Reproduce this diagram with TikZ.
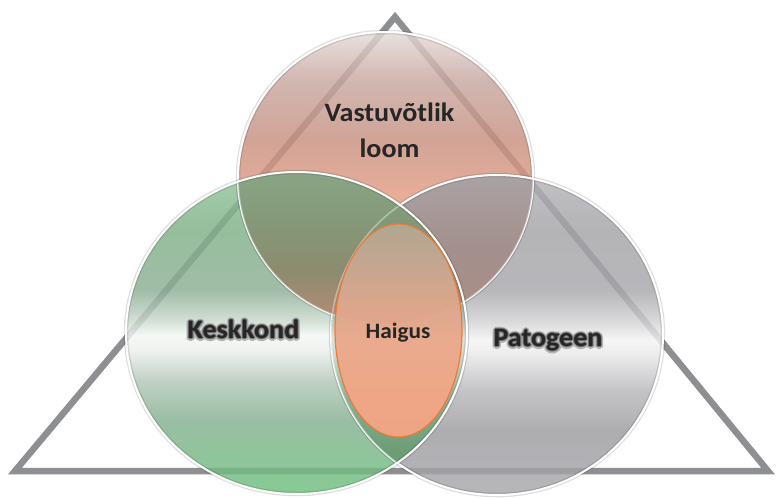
\documentclass[tikz,border=0pt]{standalone}
\usepackage{fontspec}
\setmainfont{Carlito}
\definecolor{trigray}{HTML}{8E8F93}
\definecolor{txt}{HTML}{262626}
\definecolor{hborder}{HTML}{EE7A3A}
\definecolor{glowout}{HTML}{B4B4B4}
\definecolor{glowin}{HTML}{727272}
% top circle
\definecolor{tA}{HTML}{E4DAD8}\definecolor{tB}{HTML}{C8A8A0}\definecolor{tC}{HTML}{C89080}
\definecolor{tD}{HTML}{EEA084}\definecolor{tE}{HTML}{F6A888}
\pgfdeclareverticalshading{topsh}{100bp}{color(0bp)=(tE); color(25bp)=(tE); color(42.9bp)=(tD); color(56.6bp)=(tC); color(66.8bp)=(tB); color(75bp)=(tA); color(100bp)=(tA)}
% green circle
\definecolor{gA}{HTML}{90C49A}\definecolor{gB}{HTML}{7FB088}\definecolor{gC}{HTML}{8CAE94}
\definecolor{gD}{HTML}{C8D8CC}\definecolor{gE}{HTML}{F4F6F4}\definecolor{gF}{HTML}{EEF0EE}
\definecolor{gG}{HTML}{B4C8B8}\definecolor{gH}{HTML}{84B090}\definecolor{gI}{HTML}{6CC07C}
\pgfdeclareverticalshading{greensh}{100bp}{color(0bp)=(gI); color(25bp)=(gI); color(36.5bp)=(gH); color(42.7bp)=(gG); color(47.4bp)=(gF); color(49.7bp)=(gE); color(52bp)=(gD); color(56.7bp)=(gC); color(66bp)=(gB); color(75bp)=(gA); color(100bp)=(gA)}
% gray circle
\definecolor{pA}{HTML}{B4B4B8}\definecolor{pB}{HTML}{A4A4A8}\definecolor{pC}{HTML}{A8A8AC}
\definecolor{pD}{HTML}{D0D0D2}\definecolor{pE}{HTML}{F4F4F4}\definecolor{pF}{HTML}{E8E8E8}
\definecolor{pG}{HTML}{B8B8BB}\definecolor{pH}{HTML}{9C9CA0}\definecolor{pI}{HTML}{A8A8AC}
\pgfdeclareverticalshading{graysh}{100bp}{color(0bp)=(pI); color(25bp)=(pI); color(35bp)=(pH); color(41.4bp)=(pG); color(46.9bp)=(pF); color(49.2bp)=(pE); color(52.3bp)=(pD); color(57bp)=(pC); color(66.4bp)=(pB); color(75bp)=(pA); color(100bp)=(pA)}
% top & green overlap
\definecolor{oA}{HTML}{88A484}\definecolor{oB}{HTML}{849878}\definecolor{oC}{HTML}{8C8A6C}
\definecolor{oD}{HTML}{AC8872}\definecolor{oE}{HTML}{BC8A74}
\pgfdeclareverticalshading{tgsh}{100bp}{color(0bp)=(oE); color(25bp)=(oE); color(31.3bp)=(oD); color(44bp)=(oC); color(59.8bp)=(oB); color(75bp)=(oA); color(100bp)=(oA)}
% top & gray overlap
\definecolor{mA}{HTML}{AAA2A4}\definecolor{mB}{HTML}{A28E8A}\definecolor{mC}{HTML}{AE8C82}
\pgfdeclareverticalshading{tpsh}{100bp}{color(0bp)=(mC); color(25bp)=(mC); color(49.7bp)=(mB); color(75bp)=(mA); color(100bp)=(mA)}
% green & gray overlap
\definecolor{lA}{HTML}{7E9C80}\definecolor{lB}{HTML}{80A086}\definecolor{lC}{HTML}{B8C8BC}
\definecolor{lD}{HTML}{DCE4DE}\definecolor{lE}{HTML}{C8D6CC}\definecolor{lF}{HTML}{8CAE94}
\definecolor{lG}{HTML}{6C9C76}\definecolor{lH}{HTML}{64A070}
\pgfdeclareverticalshading{gpsh}{100bp}{color(0bp)=(lH); color(25bp)=(lH); color(32bp)=(lG); color(39.8bp)=(lF); color(46.1bp)=(lE); color(49.2bp)=(lD); color(51.6bp)=(lC); color(57bp)=(lB); color(75bp)=(lA); color(100bp)=(lA)}
% Haigus ellipse
\definecolor{hA}{HTML}{B2A892}\definecolor{hB}{HTML}{C6A892}\definecolor{hC}{HTML}{DCA88E}
\definecolor{hD}{HTML}{ECA88A}\definecolor{hE}{HTML}{F4A686}\definecolor{hF}{HTML}{F6A585}
\pgfdeclareverticalshading{haish}{100bp}{color(0bp)=(hF); color(25bp)=(hF); color(33.7bp)=(hE); color(46.6bp)=(hD); color(57.2bp)=(hC); color(66.5bp)=(hB); color(75bp)=(hA); color(100bp)=(hA)}
% glow behind text, inside the same node
\newcommand\glcopy[4]{\rlap{\kern#1\raisebox{#2}{\textcolor{#3}{#4}}}}
\newcommand\glowtext[1]{\leavevmode
  \glcopy{2.2pt}{-1pt}{glowout}{#1}\glcopy{-2.2pt}{-1pt}{glowout}{#1}%
  \glcopy{0pt}{1.2pt}{glowout}{#1}\glcopy{0pt}{-3.2pt}{glowout}{#1}%
  \glcopy{1.6pt}{0.6pt}{glowout}{#1}\glcopy{-1.6pt}{0.6pt}{glowout}{#1}%
  \glcopy{1.6pt}{-2.6pt}{glowout}{#1}\glcopy{-1.6pt}{-2.6pt}{glowout}{#1}%
  \glcopy{1pt}{-0.8pt}{glowin}{#1}\glcopy{-1pt}{-0.8pt}{glowin}{#1}%
  \glcopy{0pt}{0.2pt}{glowin}{#1}\glcopy{0pt}{-1.8pt}{glowin}{#1}%
  #1}
\begin{document}
\begin{tikzpicture}[x=1pt,y=-1pt,
  tri/.style={draw=trigray,line width=6.5pt,line join=miter},
  rimshadow/.style={draw=black,draw opacity=0.13,line width=4.5pt},
  rim/.style={draw=white,line width=2pt},
  faintrim/.style={draw=white,draw opacity=0.35,line width=1.6pt},
  bigtxt/.style={text=txt,font=\fontsize{26.5}{36}\selectfont\bfseries,align=center,xscale=1.06,inner sep=0pt},
  smalltxt/.style={text=txt,font=\fontsize{22}{26}\selectfont\bfseries,xscale=1.06,inner sep=0pt}]
\def\topC{(385.5,178) ellipse [x radius=147.5pt, y radius=146pt]}
\def\greenC{(296.5,333) ellipse [x radius=170.5pt, y radius=161pt]}
\def\grayC{(497,335) ellipse [x radius=166pt, y radius=160pt]}
\def\haiC{(398.5,330.5) ellipse [x radius=63.5pt, y radius=106.5pt]}
\useasboundingbox (0,0) rectangle (776,498);
\fill[white] (0,0) rectangle (776,498);
% triangle
\draw[tri] (395,17) -- (15,471) -- (768,471) -- cycle;
% circles
\shade[shading=topsh,fill opacity=0.82] \topC;
\shade[shading=graysh,fill opacity=0.82] \grayC;
\shade[shading=greensh,fill opacity=0.82] \greenC;
% top rim
\path[rimshadow] \topC; \path[rim] \topC;
% top & gray overlap
\begin{scope}
  \clip \topC; \clip \grayC;
  \shade[shading=tpsh,fill opacity=0.93] (325,172) rectangle (540,330);
\end{scope}
% gray rim
\path[rimshadow] \grayC; \path[rim] \grayC;
% green & gray overlap
\begin{scope}
  \clip \greenC; \clip \grayC;
  \shade[shading=gpsh,fill opacity=0.93] (320,170) rectangle (475,495);
\end{scope}
% top & green overlap
\begin{scope}
  \clip \topC; \clip \greenC;
  \shade[shading=tgsh,fill opacity=0.93] (235,172) rectangle (470,330);
\end{scope}
% faint inner rims
\path[faintrim] \topC; \path[faintrim] \grayC;
% green rim
\path[rimshadow] \greenC; \path[rim] \greenC;
% Haigus
\shade[shading=haish,fill opacity=0.95] \haiC;
\draw[hborder,line width=1.2pt] \haiC;
% texts
\node[bigtxt] (vast) at (389.5,130) {Vastuvõtlik\\loom};
\node[bigtxt,anchor=base] (kesk) at (243.5,338) {\glowtext{Keskkond}};
\node[bigtxt,anchor=base] (pato) at (548,346) {\glowtext{Patogeen}};
\node[smalltxt,anchor=base] (haigus) at (398,338) {Haigus};
\end{tikzpicture}
\end{document}
